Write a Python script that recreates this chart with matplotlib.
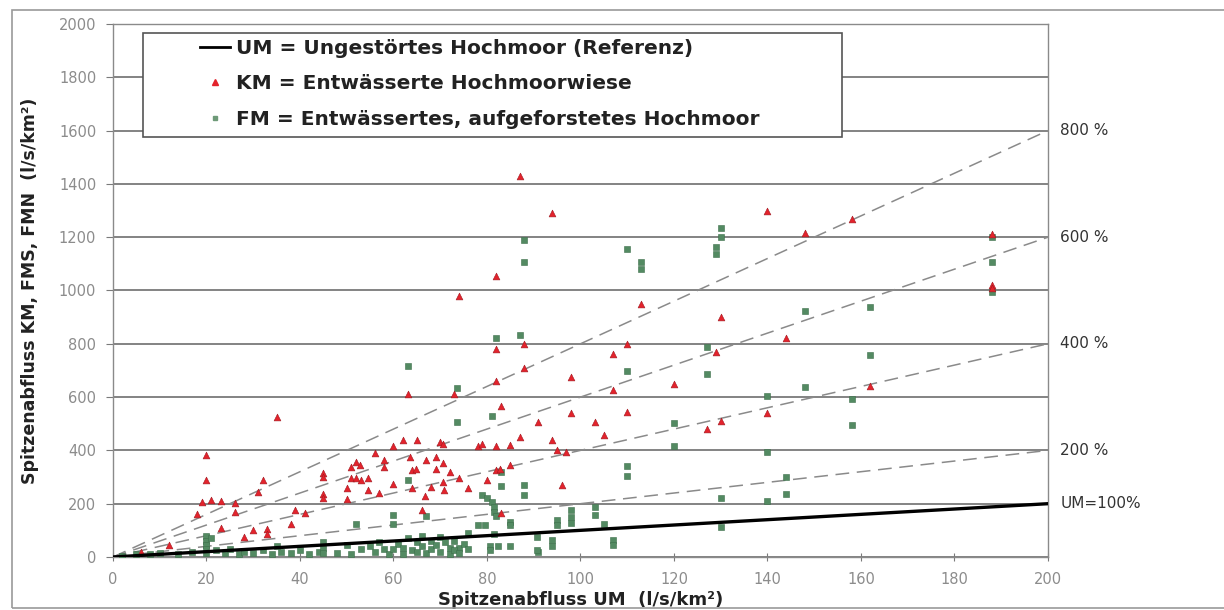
import matplotlib
matplotlib.use("Agg")
import matplotlib.pyplot as plt
from matplotlib.patches import Rectangle
from matplotlib.lines import Line2D
import numpy as np

plt.rcParams['font.family'] = ['DejaVu Sans']

# KM = drained raised-bog meadow (red triangles)
km_x = [6, 12, 18, 19, 20, 20, 21, 23, 23, 26, 26, 28, 30, 31, 32, 33, 33, 35, 38, 39,
        41, 45, 45, 45, 45, 50, 50, 51, 51, 52, 52.8, 52, 53, 54.6, 54.6, 56, 57, 58, 58, 60,
        60, 62, 63, 63.5, 64, 64.8, 64, 65, 66, 66.7, 67, 68, 69, 69, 70, 70.6, 70.6, 70.6, 70.8, 72,
        73, 74, 74, 76, 78, 79, 80, 82, 82, 82.8, 82, 82, 82, 83, 83, 85, 85, 87, 87, 88,
        88, 91, 94, 94, 95, 96, 97, 98, 98, 103, 105, 107, 107, 110, 110, 113, 120, 127, 129, 130,
        130, 140, 140, 144, 148, 158, 162, 188, 188, 188]
km_y = [20, 45, 160, 205, 383, 290, 215, 210, 108, 204, 170, 76, 100, 245, 290, 104, 88, 525, 124, 176,
        164, 314, 300, 235, 222, 258, 218, 339, 295, 355, 345, 295, 290, 295, 250, 390, 240, 365, 337, 415,
        275, 440, 610, 375, 325, 330, 258, 440, 175, 228, 365, 262, 375, 330, 430, 425, 354, 280, 250, 320,
        610, 295, 979, 258, 415, 425, 290, 415, 325, 330, 660, 779, 1054, 565, 165, 420, 345, 450, 1430, 800,
        710, 505, 440, 1290, 400, 270, 395, 677, 542, 508, 458, 627, 760, 545, 798, 950, 650, 479, 768, 510,
        900, 542, 1300, 823, 1215, 1268, 640, 1212, 1020, 1008]

# FM = drained, afforested raised bog (green squares)
fm_x = [63, 73.5, 73.5, 81, 82, 87, 88, 88, 110, 113, 113, 129, 129, 130, 130, 148, 127, 110, 127, 188,
        188, 188, 162, 162, 148, 140, 158, 158, 140, 144, 144, 140, 120, 120, 110, 110, 130, 130, 63, 83,
        83, 88, 88, 79, 80, 81, 81.4, 81.4, 82, 60, 60, 67, 52, 78, 79.5, 85, 85, 103, 103, 98,
        98, 98, 95, 95, 105, 107, 107, 94, 94, 91, 76, 81.4, 80.6, 80.6, 82.4, 84.9, 90.6, 90.6, 74,
        55, 56, 57, 58, 59, 61, 62, 63, 64, 65, 66, 66, 67, 68, 68, 69, 70, 70, 71, 72,
        72, 73, 73, 74, 75, 76, 62, 65, 60, 53, 51, 50,
        2, 5, 8, 10, 14, 17, 20, 20, 20, 20, 20, 21, 22, 24, 25, 27, 28, 30, 32, 34,
        36, 38, 40, 42, 44, 45, 45, 45, 48, 35]
fm_y = [715, 635, 505, 530, 820, 833, 1190, 1105, 1155, 1105, 1080, 1165, 1137, 1233, 1200, 923, 789, 698, 687, 1200,
        1105, 996, 939, 758, 636, 604, 592, 495, 395, 301, 236, 211, 502, 417, 341, 304, 220, 111, 289, 320,
        266, 270, 233, 233, 220, 208, 188, 170, 152, 158, 124, 154, 124, 120, 120, 133, 120, 189, 158, 176,
        151, 126, 139, 120, 124, 64, 45, 64, 41, 20, 91, 88, 40, 28, 40, 40, 76, 26, 33,
        40, 20, 55, 30, 10, 50, 35, 70, 25, 55, 40, 80, 15, 60, 30, 45, 75, 20, 55, 35,
        10, 60, 25, 15, 50, 30, 10, 20, 30, 30, 10, 45,
        5, 10, 10, 15, 10, 20, 80, 60, 45, 30, 15, 70, 25, 15, 30, 10, 20, 15, 25, 10,
        20, 15, 25, 10, 20, 58, 35, 15, 15, 40]

ratio_pct = [200, 400, 600, 800]
ratio_labels = ['200 %', '400 %', '600 %', '800 %']

fig = plt.figure(figsize=(12.24, 6.10), dpi=100)
ax = fig.add_axes([0.0923, 0.0869, 0.7639, 0.8738])

ux = np.array([0, 200])
for p in ratio_pct:
    ax.plot(ux, ux * p / 100, color='#8a8a8a', lw=1.1, dashes=(9, 5), zorder=3)

ax.scatter(fm_x, fm_y, marker='s', s=17, color='#538a62', edgecolors='#3d6e4a', linewidths=0.4, zorder=4)
ax.scatter(km_x, km_y, marker='^', s=24, color='#e3232c', edgecolors='#a01820', linewidths=0.4, zorder=5)
ax.plot(ux, ux, color='black', lw=2.4, zorder=6)

ax.set_xlim(0, 200)
ax.set_ylim(0, 2000)
ax.set_xticks(np.arange(0, 201, 20))
ax.set_yticks(np.arange(0, 2001, 200))
ax.yaxis.grid(True, color='#7a7a7a', lw=1.3)
ax.set_axisbelow(True)
for s in ax.spines.values():
    s.set_color('#8a8a8a')
    s.set_linewidth(1.0)
ax.tick_params(axis='y', direction='out', length=5, color='#7a7a7a', labelcolor='#8c8c8c', labelsize=10.5, pad=7)
ax.tick_params(axis='x', direction='inout', length=6, color='#7a7a7a', labelcolor='#8c8c8c', labelsize=10.5, pad=8)

ax.set_xlabel('Spitzenabfluss UM  (l/s/km²)', fontsize=13, fontweight='bold', color='#222222', labelpad=3)
ax.set_ylabel('Spitzenabfluss KM, FMS, FMN  (l/s/km²)', fontsize=12.5, fontweight='bold', color='#222222', labelpad=14)

tr = ax.get_yaxis_transform()
for p, lab in zip(ratio_pct, ratio_labels):
    ax.text(1.013, p * 2, lab, transform=tr, va='center', ha='left', fontsize=11, color='#333333')
ax.text(1.013, 200, 'UM=100%', transform=tr, va='center', ha='left', fontsize=11, color='#333333')

# legend box
ax.add_patch(Rectangle((0.0321, 0.788), 0.7476, 0.1951, transform=ax.transAxes,
                       facecolor='white', edgecolor='#555555', lw=1.2, zorder=9))

handles = [
    Line2D([], [], color='black', lw=2),
    Line2D([], [], ls='none', marker='^', ms=4, color='#e3232c'),
    Line2D([], [], ls='none', marker='s', ms=3.5, color='#6e9a78'),
]
labels = ['UM = Ungestörtes Hochmoor (Referenz)',
          'KM = Entwässerte Hochmoorwiese',
          'FM = Entwässertes, aufgeforstetes Hochmoor']
leg = ax.legend(handles, labels, loc='upper left', bbox_to_anchor=(0.093, 0.972), borderaxespad=0,
                frameon=False, prop={'weight': 'bold', 'size': 14.5}, handlelength=1.5,
                handletextpad=0.3, labelspacing=0.82, borderpad=0)
for t in leg.get_texts():
    t.set_color('#222222')
leg.set_zorder(10)

fig.patches.append(Rectangle((0.0098, 0.004), 1.0, 0.9796, transform=fig.transFigure,
                             fill=False, edgecolor='#9a9a9a', lw=1.2))

plt.savefig('out.png', dpi=100)
